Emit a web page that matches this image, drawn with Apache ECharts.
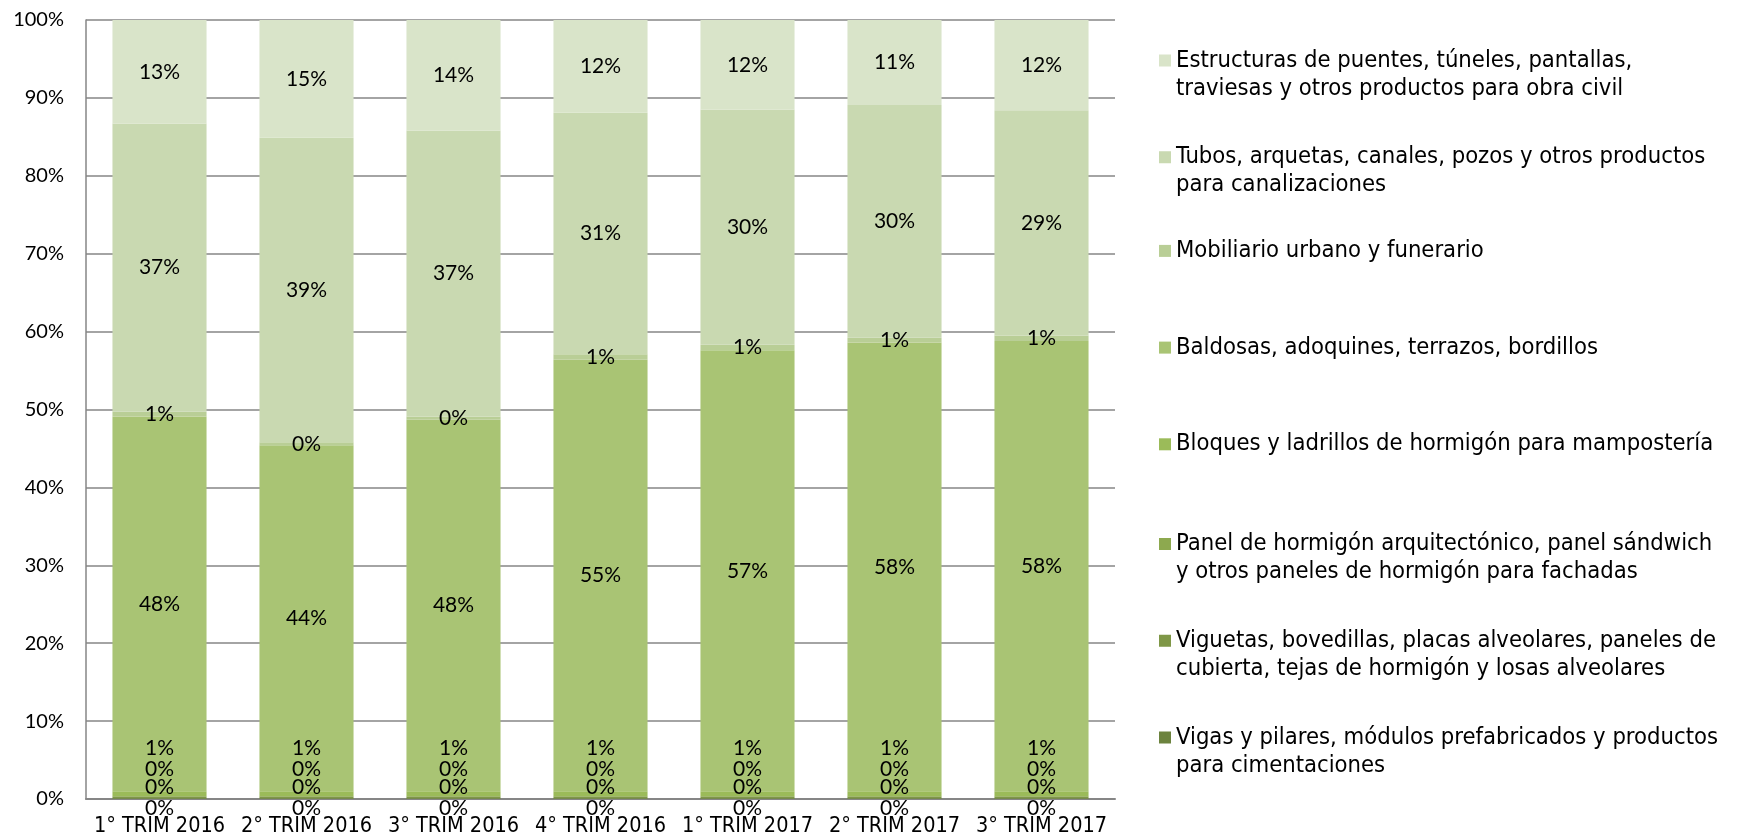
<!DOCTYPE html>
<html>
<head>
<meta charset="utf-8">
<script src="https://cdn.jsdelivr.net/npm/echarts@6/dist/echarts.min.js"></script>
<style>
html, body { margin: 0; padding: 0; background: #fff; }
#main { width: 1737px; height: 839px; }
</style>
</head>
<body>
<div id="main"></div>
<script>
// trimestres
var categories = ['1° TRIM 2016', '2° TRIM 2016', '3° TRIM 2016', '4° TRIM 2016', '1° TRIM 2017', '2° TRIM 2017', '3° TRIM 2017'];

// series, de abajo hacia arriba (%)
var vigas       = [0.1, 0.1, 0.1, 0.1, 0.1, 0.1, 0.1];
var viguetas    = [0.2, 0.2, 0.2, 0.2, 0.2, 0.2, 0.2];
var paneles     = [0.1, 0.1, 0.1, 0.1, 0.1, 0.1, 0.1];
var bloques     = [0.6, 0.6, 0.6, 0.6, 0.6, 0.6, 0.6];
var baldosas    = [48.1, 44.4, 47.7, 55.4, 56.6, 57.6, 57.8];
var mobiliario  = [0.6, 0.4, 0.4, 0.7, 0.7, 0.6, 0.7];
var tubos       = [37.0, 39.1, 36.7, 31.0, 30.2, 29.9, 28.9];
var estructuras = [13.3, 15.1, 14.2, 11.9, 11.5, 10.9, 11.6];

var yTicks = [0, 10, 20, 30, 40, 50, 60, 70, 80, 90, 100];

var seriesNames = [
    'Vigas y pilares, módulos prefabricados y productos\npara cimentaciones',
    'Viguetas, bovedillas, placas alveolares, paneles de\ncubierta, tejas de hormigón y losas alveolares',
    'Panel de hormigón arquitectónico, panel sándwich\ny otros paneles de hormigón para fachadas',
    'Bloques y ladrillos de hormigón para mampostería',
    'Baldosas, adoquines, terrazos, bordillos',
    'Mobiliario urbano y funerario',
    'Tubos, arquetas, canales, pozos y otros productos\npara canalizaciones',
    'Estructuras de puentes, túneles, pantallas,\ntraviesas y otros productos para obra civil'
];
var seriesData = [vigas, viguetas, paneles, bloques, baldosas, mobiliario, tubos, estructuras];
var colors = ['#6C833E', '#7F9747', '#8DA94F', '#9BBB59', '#A9C474', '#B9CE96', '#C9D9B1', '#D9E4C9'];
// desplazamiento de las etiquetas pequeñas de abajo
var labelOffsets = [[0, 10], [0, -10], [0, -27], [0, -45], [0, 0], [0, 0], [0, 0], [0, 0]];

var numFont = 'Lato';
var txtFont = '"DejaVu Sans Condensed", "DejaVu Sans", sans-serif';

var series = [];
for (var i = 0; i < seriesData.length; i++) {
    series.push({
        name: seriesNames[i],
        type: 'bar',
        stack: 'total',
        barCategoryGap: '36%',
        data: seriesData[i],
        itemStyle: { color: colors[i] },
        emphasis: { disabled: true },
        label: {
            show: true,
            position: 'inside',
            offset: labelOffsets[i],
            color: '#000',
            fontSize: 21,
            fontFamily: numFont,
            formatter: function (p) { return Math.round(p.value) + '%'; }
        }
    });
}

// una leyenda por serie, de arriba hacia abajo
// en las de dos lineas el cuadrado va arriba (icono alto con el cuadro en la parte superior)
var tallIcon = 'path://M0,0h12v12h-12z M0,39.99h0.01v0.01h-0.01z';
var legends = [];
for (var k = 0; k < 8; k++) {
    var idx = 7 - k;
    var name = seriesNames[idx];
    var twoLines = name.indexOf('\n') >= 0;
    var center = 57.5 + k * 96.7;
    legends.push({
        data: [name],
        orient: 'vertical',
        left: 1159,
        top: twoLines ? center - 11 : center - 14,
        padding: 0,
        itemWidth: 12,
        itemHeight: twoLines ? 40 : 12,
        icon: twoLines ? tallIcon : 'rect',
        symbolKeepAspect: false,
        selectedMode: false,
        textStyle: {
            color: '#000',
            fontSize: 23.6,
            fontFamily: txtFont,
            lineHeight: 28
        }
    });
}

var chart = echarts.init(document.getElementById('main'));
chart.setOption({
    animation: false,
    backgroundColor: '#fff',
    legend: legends,
    grid: { left: 86, right: 622, top: 20, bottom: 40, outerBoundsMode: 'none' },
    xAxis: {
        type: 'category',
        data: categories,
        axisTick: { show: false },
        axisLine: { lineStyle: { color: '#868686', width: 2 } },
        axisLabel: { interval: 0, color: '#000', fontSize: 21.5, fontFamily: txtFont, margin: 16 }
    },
    yAxis: {
        type: 'value',
        min: yTicks[0],
        max: yTicks[yTicks.length - 1],
        interval: 10,
        axisLine: { show: true, lineStyle: { color: '#868686', width: 1.5 } },
        axisTick: { show: false },
        splitLine: { lineStyle: { color: '#868686', width: 1.5 } },
        axisLabel: { color: '#000', fontSize: 20, fontFamily: numFont, margin: 22, formatter: '{value}%' }
    },
    series: series
});
</script>
</body>
</html>
